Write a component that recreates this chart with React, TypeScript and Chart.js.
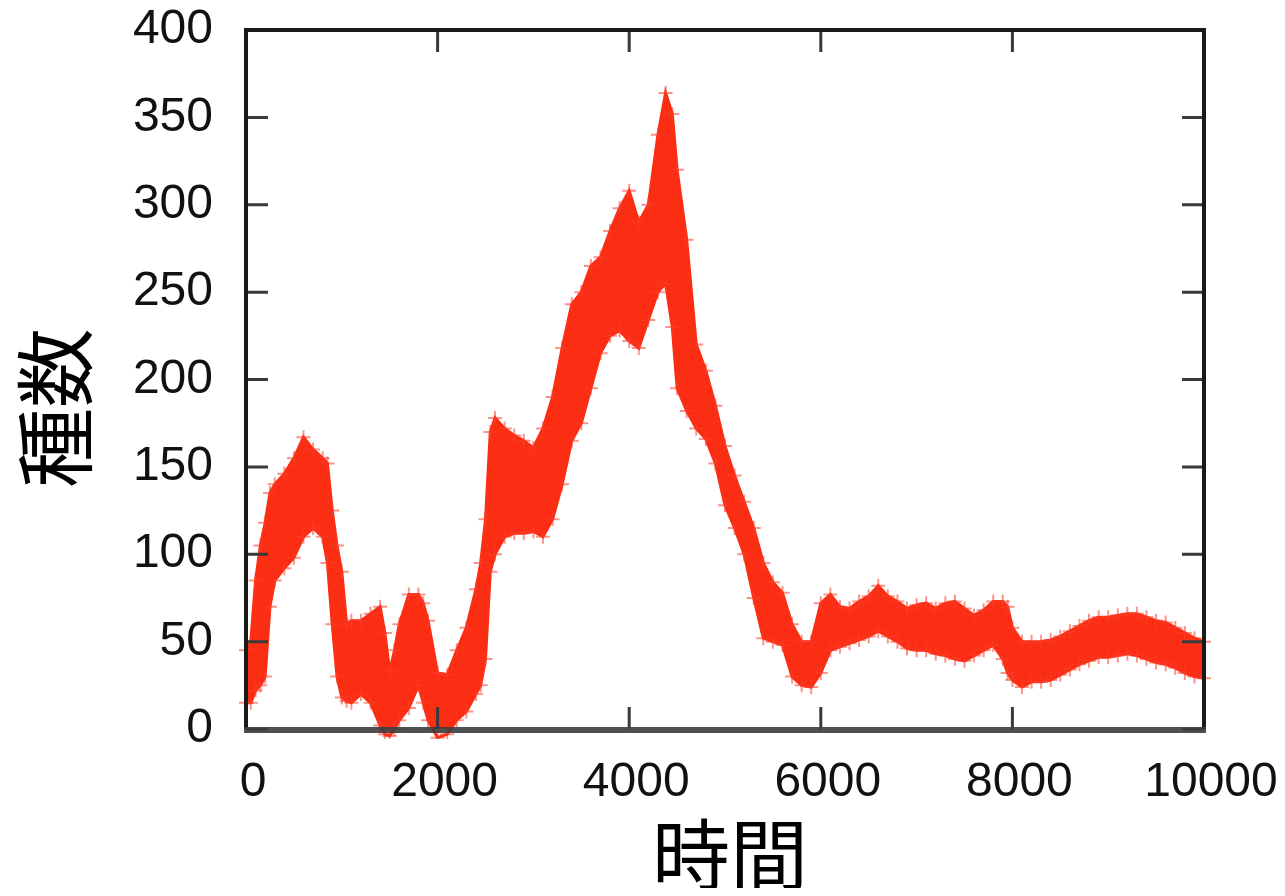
import { useEffect, useRef } from 'react';
import { Chart, registerables } from 'chart.js';

Chart.register(...registerables);

// time steps (x) and the lower / upper edge of the band of points (y)
const TIME = [
  0, 50, 100, 150, 200, 250, 300, 400, 500, 600, 700, 800, 850, 900, 950, 1000,
  1050, 1100, 1200, 1300, 1400, 1450, 1500, 1550, 1600, 1700, 1800, 1850, 1900,
  2000, 2100, 2200, 2300, 2400, 2450, 2500, 2550, 2600, 2700, 2800, 2900, 3000,
  3100, 3200, 3300, 3400, 3500, 3600, 3700, 3800, 3900, 4000, 4100, 4200, 4300,
  4380, 4450, 4500, 4600, 4700, 4800, 4900, 5000, 5100, 5200, 5300, 5400, 5500,
  5600, 5700, 5800, 5900, 6000, 6100, 6200, 6300, 6400, 6500, 6600, 6700, 6800,
  6900, 7000, 7100, 7200, 7300, 7400, 7500, 7600, 7700, 7800, 7900, 7950, 8000,
  8100, 8200, 8300, 8400, 8500, 8600, 8700, 8800, 8900, 9000, 9100, 9200, 9300,
  9400, 9500, 9600, 9700, 9800, 9900, 10000,
];
const LOW = [
  15, 15, 22, 25, 30, 70, 85, 92, 98, 110, 115, 110, 95, 60, 30, 18,
  16, 15, 20, 15, 2, -3, -4, 0, 5, 12, 25, 15, 5,
  -5, -3, 5, 10, 20, 25, 40, 90, 100, 110, 112, 112, 113,
  110, 120, 140, 165, 175, 195, 215, 225, 228, 222, 218, 234, 250,
  255, 230, 195, 182, 172, 166, 152, 128, 115, 100, 75, 52, 50,
  48, 30, 25, 24, 32, 45, 47, 49, 51, 53, 56, 53, 50,
  46, 45, 45, 43, 42, 40, 39, 42, 45, 48, 40, 32, 28,
  24, 27, 27, 28, 31, 34, 37, 39, 41, 41, 42, 43, 42,
  40, 38, 37, 35, 32, 30, 29,
];
const HIGH = [
  45, 50, 85, 105, 118, 135, 140, 146, 155, 167, 160, 155, 152, 125, 105, 90,
  60, 62, 62, 66, 70, 55, 33, 45, 60, 77, 77, 72, 62,
  32, 31, 45, 58, 80, 95, 120, 170, 178, 172, 168, 165, 161,
  172, 190, 218, 243, 250, 265, 270, 285, 298, 308, 290, 300, 340,
  364, 352, 320, 280, 220, 205, 185, 162, 145, 130, 115, 95, 84,
  78, 60, 50, 50, 72, 77, 70, 69, 73, 76, 82, 76, 73,
  69, 71, 72, 69, 72, 73, 69, 65, 68, 73, 73, 70, 58,
  50, 50, 50, 51, 53, 56, 59, 62, 64, 64, 65, 66, 66,
  64, 62, 61, 58, 55, 52, 50,
];
const X_TICKS = [0, 2000, 4000, 6000, 8000, 10000];
const Y_TICKS = [0, 50, 100, 150, 200, 250, 300, 350, 400];
const X_TITLE = '時間';
const Y_TITLE = '種数';

const RED = '#fb2e14';
const RED_SOFT = 'rgba(251, 60, 40, 0.55)';

export default function App() {
  const ref = useRef<HTMLCanvasElement>(null);

  useEffect(() => {
    if (!ref.current) return;

    const framePlugin = {
      id: 'framePlugin',
      afterDraw(chart: any) {
        const { ctx, chartArea } = chart;
        const { left, right, top, bottom } = chartArea;
        const xs = chart.scales.x;
        const ys = chart.scales.y;
        ctx.save();
        // inward ticks on all four sides
        ctx.strokeStyle = '#3a3a3a';
        ctx.lineWidth = 3;
        const tl = 22;
        Y_TICKS.forEach((v) => {
          const py = ys.getPixelForValue(v);
          ctx.beginPath();
          ctx.moveTo(left, py);
          ctx.lineTo(left + tl, py);
          ctx.moveTo(right, py);
          ctx.lineTo(right - tl, py);
          ctx.stroke();
        });
        X_TICKS.forEach((v) => {
          const px = xs.getPixelForValue(v);
          ctx.beginPath();
          ctx.moveTo(px, bottom);
          ctx.lineTo(px, bottom - tl);
          ctx.moveTo(px, top);
          ctx.lineTo(px, top + tl);
          ctx.stroke();
        });
        // frame
        ctx.strokeStyle = '#1a1a1a';
        ctx.lineWidth = 4;
        ctx.beginPath();
        ctx.moveTo(left, bottom);
        ctx.lineTo(left, top);
        ctx.lineTo(right, top);
        ctx.lineTo(right, bottom);
        ctx.stroke();
        ctx.strokeStyle = 'rgba(60,60,60,0.9)';
        ctx.lineWidth = 6;
        ctx.beginPath();
        ctx.moveTo(left - 2, bottom + 1);
        ctx.lineTo(right + 2, bottom + 1);
        ctx.stroke();

        // axis titles
        ctx.fillStyle = '#000';
        ctx.textAlign = 'center';
        ctx.textBaseline = 'middle';
        ctx.font = '78px "Noto Sans CJK JP"';
        ctx.fillText(X_TITLE, 722, 847);
        ctx.translate(47, 400);
        ctx.rotate(-Math.PI / 2);
        ctx.font = '80px "Noto Sans CJK JP"';
        ctx.fillText(Y_TITLE, 0, 0);
        ctx.restore();
      },
    };

    const lowData = TIME.map((t, i) => ({ x: t, y: LOW[i] }));
    const highData = TIME.map((t, i) => ({ x: t, y: HIGH[i] }));

    const chart = new Chart(ref.current, {
      type: 'line',
      data: {
        datasets: [
          {
            label: 'low',
            data: lowData,
            borderColor: RED,
            borderWidth: 3,
            pointStyle: 'cross',
            pointRadius: 7,
            pointBorderWidth: 2,
            pointBorderColor: RED_SOFT,
            pointBackgroundColor: RED_SOFT,
            fill: false,
            tension: 0,
            clip: 10,
          },
          {
            label: 'high',
            data: highData,
            borderColor: RED,
            borderWidth: 3,
            backgroundColor: RED,
            pointStyle: 'cross',
            pointRadius: 7,
            pointBorderWidth: 2,
            pointBorderColor: RED_SOFT,
            pointBackgroundColor: RED_SOFT,
            fill: '-1',
            tension: 0,
            clip: 10,
          },
        ],
      },
      options: {
        animation: false,
        responsive: true,
        maintainAspectRatio: false,
        layout: { padding: { left: 0, top: 22, right: 73, bottom: 0 } },
        plugins: {
          legend: { display: false },
          tooltip: { enabled: false },
          title: { display: false },
        },
        scales: {
          x: {
            type: 'linear',
            min: 0,
            max: 10000,
            grid: { display: false, drawTicks: false },
            border: { display: false },
            afterBuildTicks: (s: any) => {
              s.ticks = X_TICKS.map((v) => ({ value: v }));
            },
            afterFit: (s: any) => {
              s.height = 159;
              s.paddingLeft = 0;
              s.paddingRight = 0;
              s.paddingTop = 0;
              s.paddingBottom = 0;
            },
            ticks: {
              autoSkip: false,
              maxRotation: 0,
              padding: 25,
              labelOffset: 7,
              color: '#111',
              font: { family: '"Liberation Sans", Arial, sans-serif', size: 48 },
              callback: (v: any) => String(v),
            },
          },
          y: {
            type: 'linear',
            min: 0,
            max: 400,
            grid: { display: false, drawTicks: false },
            border: { display: false },
            afterBuildTicks: (s: any) => {
              s.ticks = Y_TICKS.map((v) => ({ value: v }));
            },
            afterFit: (s: any) => {
              s.width = 238;
              s.paddingLeft = 0;
              s.paddingRight = 0;
              s.paddingTop = 0;
              s.paddingBottom = 0;
            },
            ticks: {
              autoSkip: false,
              padding: 33,
              color: '#111',
              font: { family: '"Liberation Sans", Arial, sans-serif', size: 48 },
              callback: (v: any) => String(v),
            },
          },
        },
      },
      plugins: [framePlugin],
    });

    return () => chart.destroy();
  }, []);

  return (
    <div style={{ width: 1269, height: 880, position: 'relative' }}>
      <canvas ref={ref} />
    </div>
  );
}
